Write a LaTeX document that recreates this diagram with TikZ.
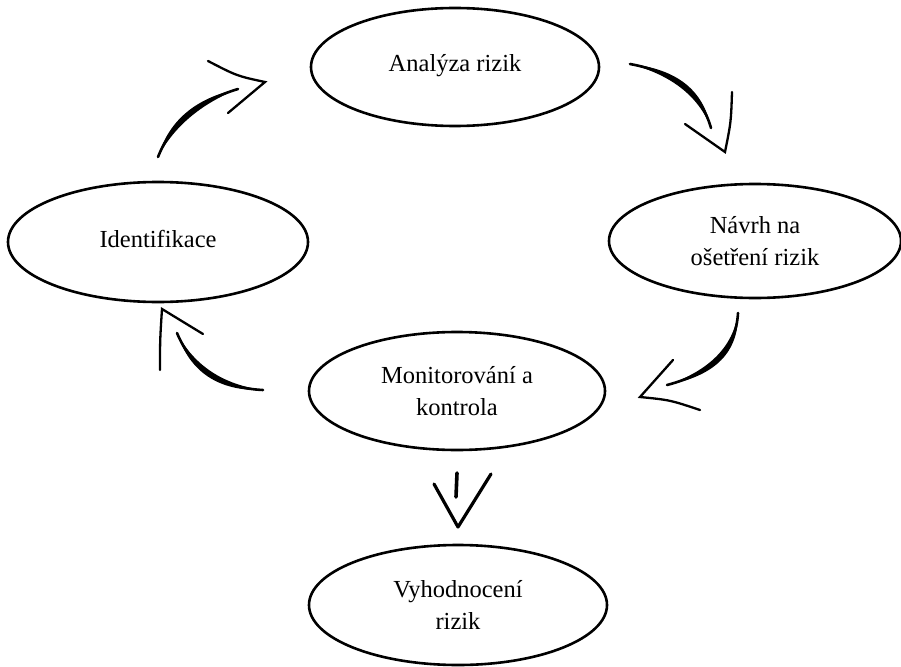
\documentclass[tikz,border=0pt]{standalone}
\usepackage{fontspec}
\setmainfont{LiberationSerif}[Extension=.ttf, UprightFont=*-Regular, BoldFont=*-Bold]
\usetikzlibrary{shapes.geometric,calc}

% Brush stroke along a cubic curve: #1 start, #2 and #3 controls, #4 end.
% A round-capped core line, thickened towards the middle by a lens fill.
\newcommand{\brushstroke}[4]{%
  \draw[line width=2.6pt, line cap=round] (#1) .. controls (#2) and (#3) .. (#4);
  \fill (#1) .. controls ($(#2)!4pt!90:(#3)$) and ($(#3)!4pt!-90:(#2)$) .. (#4)
             .. controls ($(#3)!4pt!90:(#2)$) and ($(#2)!4pt!-90:(#3)$) .. (#1) -- cycle;}

\begin{document}
\begin{tikzpicture}[x=1pt,y=-1pt,
  phase/.style={ellipse, draw, line width=2.6pt, inner sep=0pt,
    align=center, font=\fontsize{24.5}{32}\selectfont},
  barb/.style={line width=2.3pt, line cap=round}]
\useasboundingbox (0,0) rectangle (901,666);

% process phases
\node[phase, minimum width=288pt, minimum height=118pt] (ana) at (455,67) {\raisebox{9pt}{Analýza rizik}};
\node[phase, minimum width=300pt, minimum height=120pt] (ide) at (158,242) {\raisebox{6pt}{Identifikace}};
\node[phase, minimum width=292pt, minimum height=114pt] (nav) at (755,241) {Návrh na\\ošetření rizik};
\node[phase, minimum width=296pt, minimum height=118pt] (mon) at (457,391) {Monitorování a\\kontrola};
\node[phase, minimum width=298pt, minimum height=120pt] (vyh) at (458,605) {Vyhodnocení\\rizik};

% Identifikace -> Analýza
\coordinate (a1s) at (158,157); \coordinate (a1e) at (238,89);
\coordinate (a1t) at (265,82);  \coordinate (a1u) at (208,61);  \coordinate (a1v) at (228,113);
\brushstroke{a1s}{171,124}{198,101}{a1e}
\draw[barb] (a1u) .. controls (237,76) .. (a1t) -- (a1v);

% Analýza -> Návrh
\coordinate (a2s) at (630,64);  \coordinate (a2e) at (711,128);
\coordinate (a2t) at (725,152); \coordinate (a2u) at (685,124); \coordinate (a2v) at (732,92);
\brushstroke{a2s}{674,72}{701,93}{a2e}
\draw[barb] (a2u) -- (a2t) .. controls (731,122) .. (a2v);

% Návrh -> Monitorování
\coordinate (a3s) at (738,313); \coordinate (a3e) at (667,385);
\coordinate (a3t) at (640,397); \coordinate (a3u) at (673,360); \coordinate (a3v) at (700,410);
\brushstroke{a3s}{736,349}{713,373}{a3e}
\draw[barb] (a3u) -- (a3t) .. controls (670,400) .. (a3v);

% Monitorování -> Identifikace
\coordinate (a4s) at (263,390); \coordinate (a4e) at (177,333);
\coordinate (a4t) at (162,309); \coordinate (a4u) at (203,334); \coordinate (a4v) at (160,370);
\brushstroke{a4s}{221,388}{192,369}{a4e}
\draw[barb] (a4u) -- (a4t) .. controls (160,340) .. (a4v);

% Monitorování -> Vyhodnocení
\coordinate (a5s) at (457,473); \coordinate (a5e) at (456,497);
\coordinate (a5t) at (458,527); \coordinate (a5u) at (434,484); \coordinate (a5v) at (491,474);
\draw[line width=3.6pt, line cap=round] (a5s) -- (a5e);
\draw[line width=3.2pt, line cap=round, line join=round] (a5u) -- (a5t) -- (a5v);
\end{tikzpicture}
\end{document}
